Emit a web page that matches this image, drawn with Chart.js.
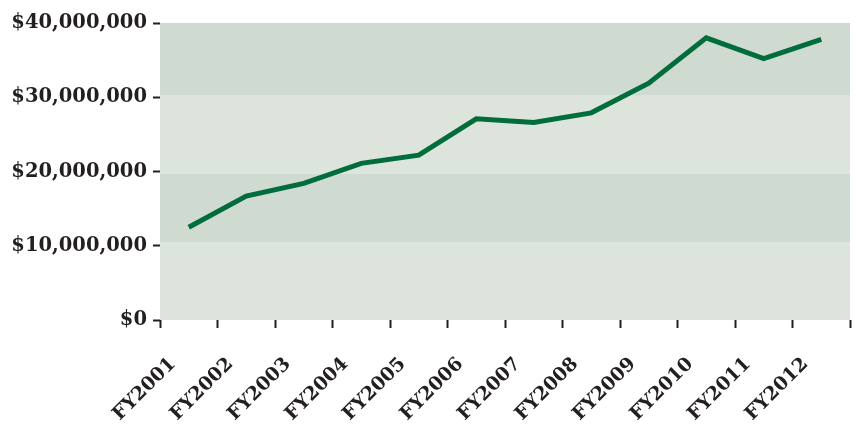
<!DOCTYPE html>
<html>
<head>
<meta charset="utf-8">
<script src="https://cdn.jsdelivr.net/npm/chart.js@4/dist/chart.umd.min.js"></script>
<style>
  html, body { margin: 0; padding: 0; background: #ffffff; }
  #wrap { width: 857px; height: 426px; position: relative; }
</style>
</head>
<body>
<div id="wrap"><canvas id="c"></canvas></div>
<script>
const categories = ["FY2001","FY2002","FY2003","FY2004","FY2005","FY2006","FY2007","FY2008","FY2009","FY2010","FY2011","FY2012"];
const revenue = [12500000, 16700000, 18400000, 21100000, 22200000, 27100000, 26600000, 27900000, 31900000, 38000000, 35200000, 37800000];
const yTickValues = [0, 10000000, 20000000, 30000000, 40000000];
const bandEdges = [0, 10500000, 19750000, 30300000, 40000000];
const bandColors = ["#dce4dc", "#cfdad1", "#dce4dc", "#cfdad1"];

const YFONT = { family: "'DejaVu Serif', serif", size: 19.5, weight: "bold" };
const XFONT = { family: "'DejaVu Serif', serif", size: 19, weight: "bold" };
const INK = "#231f20";

const bandsPlugin = {
  id: "bands",
  beforeDatasetsDraw(chart) {
    const { ctx, chartArea, scales } = chart;
    const y = scales.y;
    ctx.save();
    for (let i = 0; i < bandColors.length; i++) {
      const top = y.getPixelForValue(bandEdges[i + 1]);
      const bot = y.getPixelForValue(bandEdges[i]);
      ctx.fillStyle = bandColors[i];
      ctx.fillRect(chartArea.left, top, chartArea.right - chartArea.left, bot - top);
    }
    ctx.restore();
  }
};

new Chart(document.getElementById("c"), {
  type: "line",
  data: {
    labels: categories,
    datasets: [{
      data: revenue,
      borderColor: "#006d3a",
      borderWidth: 5,
      pointRadius: 0,
      tension: 0,
      fill: false,
      borderJoinStyle: "miter",
      borderCapStyle: "butt"
    }]
  },
  options: {
    responsive: true,
    maintainAspectRatio: false,
    animation: false,
    layout: { padding: { top: 23, right: 7, left: 0, bottom: 0 } },
    plugins: { legend: { display: false }, tooltip: { enabled: false } },
    scales: {
      x: {
        offset: true,
        border: { display: false },
        grid: { offset: true, drawOnChartArea: false, drawTicks: true, tickLength: 8, tickWidth: 2, tickColor: INK },
        ticks: { font: XFONT, color: INK, minRotation: 45, maxRotation: 45, autoSkip: false, padding: 25, labelOffset: -16 },
        afterFit(s) { s.height = 106; s.paddingLeft = 0; s.paddingRight = 0; }
      },
      y: {
        min: 0,
        max: 40000000,
        border: { display: false },
        afterBuildTicks(s) { s.ticks = yTickValues.map(v => ({ value: v })); },
        grid: { drawOnChartArea: false, drawTicks: true, tickLength: 7, tickWidth: 2, tickColor: INK },
        ticks: {
          font: YFONT, color: INK, padding: 6,
          callback: v => "$" + Number(v).toLocaleString("en-US")
        },
        afterFit(s) { s.width = 160; }
      }
    }
  },
  plugins: [bandsPlugin]
});
</script>
</body>
</html>
